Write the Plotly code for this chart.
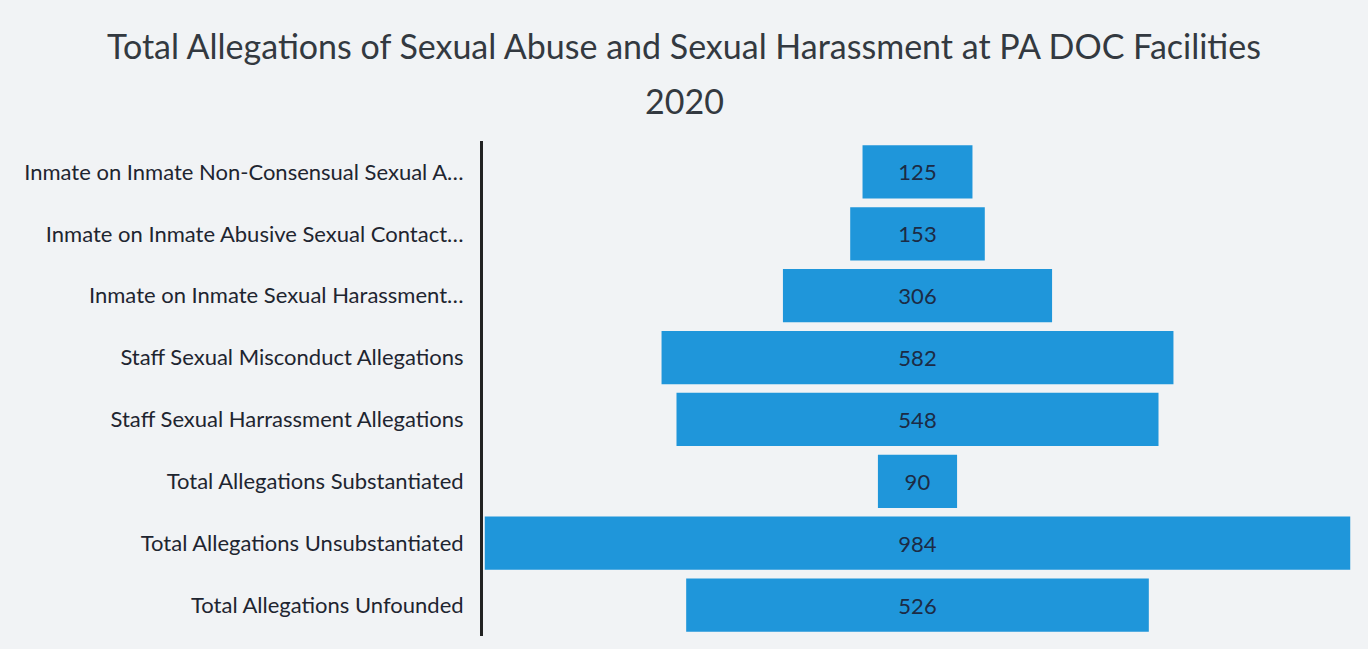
import plotly.graph_objects as go

categories = [
    "Inmate on Inmate Non-Consensual Sexual A…",
    "Inmate on Inmate Abusive Sexual Contact…",
    "Inmate on Inmate Sexual Harassment…",
    "Staff Sexual Misconduct Allegations",
    "Staff Sexual Harrassment Allegations",
    "Total Allegations Substantiated",
    "Total Allegations Unsubstantiated",
    "Total Allegations Unfounded",
]
values = [125, 153, 306, 582, 548, 90, 984, 526]
title_line1 = "Total Allegations of Sexual Abuse and Sexual Harassment at PA DOC Facilities"
title_line2 = "2020"

BG = "#f1f3f5"

fig = go.Figure(go.Funnel(
    y=categories,
    x=values,
    textinfo="value",
    textposition="inside",
    insidetextfont=dict(color="#1c2b45", size=22, family="Lato"),
    marker=dict(color="#1f96da"),
    connector=dict(visible=False),
    hoverinfo="x+y",
))

fig.update_layout(
    width=1368, height=649,
    title=dict(
        text=title_line1,
        x=0.5, xanchor="center", xref="container",
        y=1 - 47 / 649, yanchor="middle", yref="container",
        font=dict(family="Lato", size=34, color="#333940"),
    ),
    annotations=[dict(
        text=title_line2,
        xref="paper", yref="paper",
        x=(684 - 483) / 869, y=(636 - 101) / 495,
        xanchor="center", yanchor="middle",
        showarrow=False,
        font=dict(family="Lato", size=34, color="#333940"),
    )],
    paper_bgcolor=BG,
    plot_bgcolor=BG,
    margin=dict(l=483, r=16, t=141, b=13),
    funnelgap=0.14,
    showlegend=False,
    font=dict(family="Lato", color="#1e2530"),
)
fig.update_xaxes(visible=False, range=[-494, 494])
fig.update_yaxes(
    showline=True, linecolor="#222222", linewidth=3,
    tickfont=dict(size=22, family="Lato", color="#1e2530"),
    ticklabelstandoff=12,
    showgrid=False,
)

fig.write_html(
    "out.html",
    config={"displayModeBar": False},
    post_script="document.body.style.margin='0px';document.body.style.background='" + BG + "';",
)
